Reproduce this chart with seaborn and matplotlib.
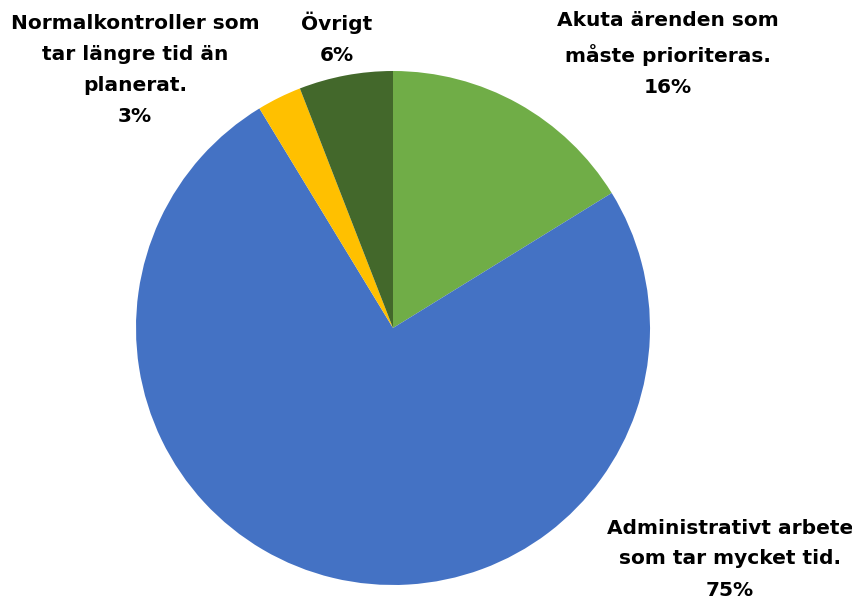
import matplotlib
matplotlib.use("Agg")
import matplotlib.pyplot as plt
import seaborn as sns

categories = ["Akuta ärenden som\nmåste prioriteras.",
              "Administrativt arbete\nsom tar mycket tid.",
              "Normalkontroller som\ntar längre tid än\nplanerat.",
              "Övrigt"]
values = [16.2, 75.1, 2.8, 5.9]
colors = ["#70AD47", "#4472C4", "#FFC000", "#43682B"]

# label block centres in pixels (x, y from top)
label_px = [(668, 54), (730, 559), (135, 70), (337, 38)]

sns.set_theme(style="white")
plt.rcParams['font.family'] = ['DejaVu Sans']

W, H = 853, 603
cx, cy, r = 393, 328, 257

fig = plt.figure(figsize=(W / 100, H / 100), dpi=100)
ax = fig.add_axes([0, 0, 1, 1])
ax.pie(values, colors=colors, startangle=90, counterclock=False,
       radius=1, wedgeprops=dict(linewidth=0))

total = sum(values)
for cat, v, (px, py) in zip(categories, values, label_px):
    ax.text((px - cx) / r, (cy - py) / r, f"{cat}\n{v / total * 100:.0f}%",
            ha="center", va="center", fontsize=14.5, fontweight="bold",
            linespacing=1.8, color="black")

ax.set_xlim(-cx / r, (W - cx) / r)
ax.set_ylim(-(H - cy) / r, cy / r)
ax.set_aspect("equal")
ax.axis("off")

fig.savefig("out.png", dpi=100)
